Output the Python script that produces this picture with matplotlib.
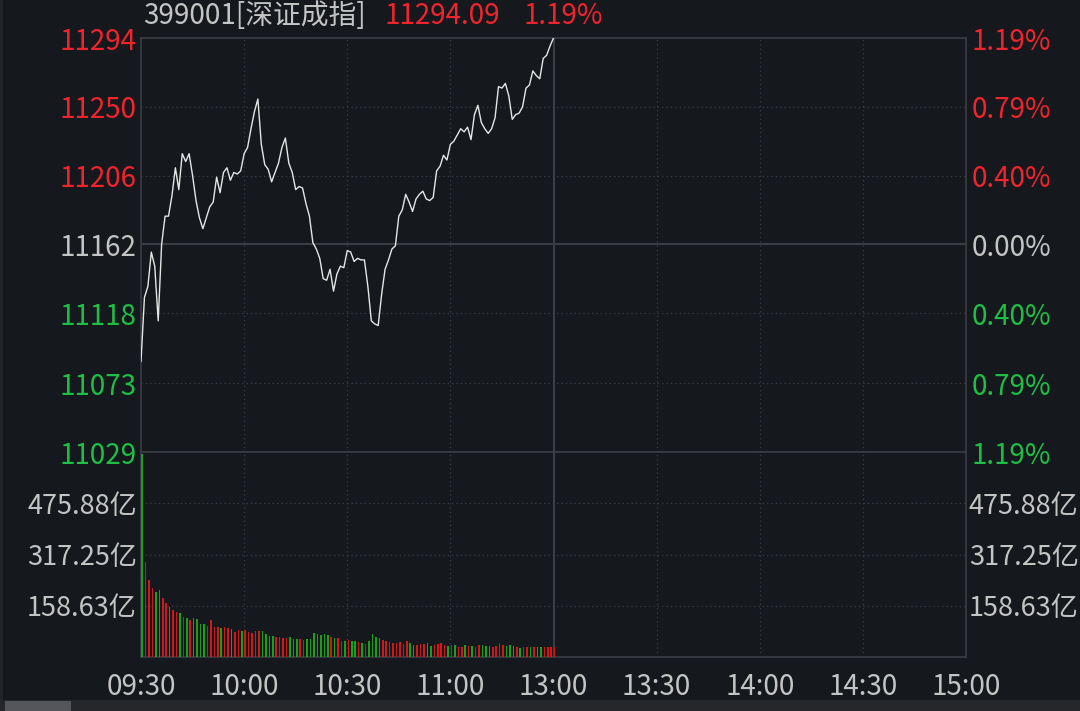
import numpy as np
import matplotlib
matplotlib.use("Agg")
import matplotlib.pyplot as plt

plt.rcParams['font.family'] = ['Noto Sans CJK SC', 'DejaVu Sans']

# 分时数据 09:30 - 11:30, 每分钟一个点
prices = [
    11087, 11128, 11135, 11157, 11148, 11113, 11162, 11180, 11180, 11193,
    11211, 11197, 11220, 11215, 11220, 11206, 11190, 11179, 11172, 11179,
    11186, 11189, 11205, 11195, 11208, 11211, 11203, 11208, 11207, 11209,
    11220, 11224, 11236, 11247, 11255, 11226, 11213, 11210, 11202, 11208,
    11214, 11224, 11230, 11214, 11208, 11197, 11199, 11198, 11188, 11180,
    11163, 11159, 11153, 11140, 11139, 11146, 11132, 11143, 11148, 11147,
    11158, 11157, 11151, 11153, 11152, 11152, 11135, 11113, 11111, 11110,
    11130, 11146, 11152, 11159, 11161, 11180, 11184, 11194, 11189, 11183,
    11191, 11194, 11196, 11191, 11190, 11192, 11209, 11212, 11219, 11216,
    11226, 11228, 11232, 11236, 11234, 11237, 11229, 11245, 11251, 11240,
    11236, 11233, 11236, 11243, 11263, 11262, 11265, 11257, 11242, 11245,
    11246, 11250, 11262, 11264, 11273, 11270, 11268, 11281, 11283, 11289,
    11294.09,
]

# 成交额(亿)
volumes = [
    628, 295, 239, 214, 201, 207, 183, 168, 156, 145,
    140, 137, 125, 122, 114, 120, 119, 102, 102, 95,
    113, 93, 93, 90, 93, 90, 87, 77, 85, 80,
    85, 77, 75, 80, 82, 82, 70, 65, 65, 63,
    62, 60, 59, 62, 57, 57, 57, 53, 57, 57,
    74, 70, 68, 71, 67, 61, 59, 59, 48, 48,
    54, 51, 48, 45, 42, 39, 51, 71, 62, 59,
    53, 48, 45, 42, 42, 45, 39, 48, 42, 36,
    36, 39, 39, 42, 33, 36, 39, 42, 36, 33,
    36, 36, 30, 30, 36, 33, 33, 30, 36, 36,
    33, 33, 30, 33, 42, 36, 33, 36, 33, 30,
    27, 30, 30, 30, 30, 30, 30, 30, 30, 30,
    30,
]
# 'r' 红柱, 'g' 绿柱
vol_colors = list(
    "grrrggrrgr"
    "rgrgrggggr"
    "rrrgrrgrrg"
    "rrrrrggggr"
    "rrrgggrrgg"
    "gggggrgrrg"
    "rggrgrgggg"
    "rrrrrrrrgg"
    "rrrggrrrrg"
    "rgrrgrgrrg"
    "ggrrrrgggr"
    "grrgrggrrr"
    "r"
)

time_labels = ["09:30", "10:00", "10:30", "11:00", "13:00", "13:30", "14:00", "14:30", "15:00"]
price_ticks = [11294, 11250, 11206, 11162, 11118, 11073, 11029]
pct_labels = ["1.19%", "0.79%", "0.40%", "0.00%", "0.40%", "0.79%", "1.19%"]
vol_ticks = [158.63, 317.25, 475.88]
vol_max = 634.5

BG = "#15181d"
GRID = "#3a3d43"
RED = "#f0242c"
GREEN = "#1fbf45"
GRAY = "#c4c4c4"

W, H = 1080, 711
fig = plt.figure(figsize=(W / 100, H / 100), dpi=100, facecolor=BG)


def box(x0, y0, x1, y1):
    return [x0 / W, 1 - y1 / H, (x1 - x0) / W, (y1 - y0) / H]


ax = fig.add_axes(box(141, 38, 966, 452), facecolor=BG)
axv = fig.add_axes(box(141, 452, 966, 657), facecolor=BG, sharex=ax)

mins = np.arange(len(prices))
ax.plot(mins, prices, color="#e6e6e6", lw=1.0, zorder=3)
ax.set_xlim(0, 240)
ax.set_ylim(11029, 11294.09)

bar_col = ["#d01818" if c == "r" else "#18a018" for c in vol_colors]
axv.bar(np.arange(len(volumes)) + 0.1, volumes, width=0.45, align="edge",
        color=bar_col, zorder=3)
axv.set_ylim(0, vol_max)

for a in (ax, axv):
    for s in a.spines.values():
        s.set_color(GRID)
        s.set_linewidth(1.2)
    for m in (30, 60, 90, 150, 180, 210):
        a.axvline(m, color=GRID, lw=0.9, ls=(0, (1, 2.5)), zorder=1)
    a.axvline(120, color=GRID, lw=1.5, zorder=1)
    a.tick_params(length=0)

for p in price_ticks[1:-1]:
    if p == 11162:
        ax.axhline(p, color=GRID, lw=1.5, zorder=1)
    else:
        ax.axhline(p, color=GRID, lw=0.9, ls=(0, (1, 2.5)), zorder=1)
for v in vol_ticks:
    axv.axhline(v, color=GRID, lw=0.9, ls=(0, (1, 2.5)), zorder=1)

fs = 20
ax.set_yticks(price_ticks)
ax.set_yticklabels([str(p) for p in price_ticks], fontsize=fs)
ax.tick_params(axis="y", pad=3)
ax.tick_params(axis="x", labelbottom=False)
axr = ax.twinx()
axr.set_ylim(ax.get_ylim())
axr.set_yticks(price_ticks)
axr.set_yticklabels(pct_labels, fontsize=fs)
axr.tick_params(length=0, pad=4)
for s in axr.spines.values():
    s.set_visible(False)
cols = [RED, RED, RED, GRAY, GREEN, GREEN, GREEN]
for t, c in zip(ax.get_yticklabels(), cols):
    t.set_color(c)
for t, c in zip(axr.get_yticklabels(), cols):
    t.set_color(c)

vfs = 19.5
axv.set_yticks(vol_ticks)
axv.set_yticklabels([f"{v:.2f}亿" for v in vol_ticks], fontsize=vfs, color=GRAY)
axv.tick_params(axis="y", pad=3)
axvr = axv.twinx()
axvr.set_ylim(0, vol_max)
axvr.set_yticks(vol_ticks)
axvr.set_yticklabels([f"{v:.2f}亿" for v in vol_ticks], fontsize=vfs, color=GRAY)
axvr.tick_params(length=0, pad=2)
for s in axvr.spines.values():
    s.set_visible(False)

axv.set_xticks(np.arange(0, 241, 30))
axv.set_xticklabels(time_labels, fontsize=fs, color=GRAY)
axv.tick_params(axis="x", pad=11)

# 标题
ty = 1 - 16 / H
fig.text(143 / W, ty, "399001[深证成指]", fontsize=fs, color=GRAY, va="center")
fig.text(385 / W, ty, "11294.09", fontsize=fs, color=RED, va="center")
fig.text(523 / W, ty, "1.19%", fontsize=fs, color=RED, va="center")

# 底部滚动条
fig.patches.append(plt.Rectangle((0, 0), 1, 11 / H, transform=fig.transFigure,
                                 facecolor="#25272b", edgecolor="none"))
fig.patches.append(plt.Rectangle((5 / W, 0), 66 / W, 10 / H, transform=fig.transFigure,
                                 facecolor="#55565c", edgecolor="none"))
fig.patches.append(plt.Rectangle((0, 11 / H), 3 / W, 1 - 11 / H, transform=fig.transFigure,
                                 facecolor="#222429", edgecolor="none"))

fig.savefig("out.png", dpi=100, facecolor=BG)
